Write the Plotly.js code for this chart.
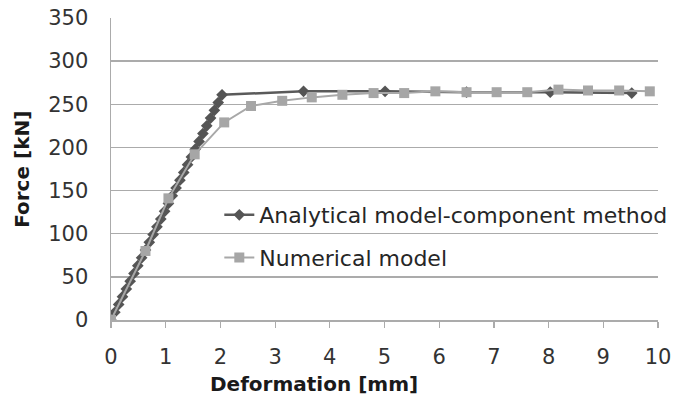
<!DOCTYPE html>
<html>
<head>
<meta charset="utf-8">
<script src="https://cdn.plot.ly/plotly-3.0.1.min.js"></script>
<style>
  html, body { margin: 0; padding: 0; background: #ffffff; }
  #chart { width: 674px; height: 405px; }
</style>
</head>
<body>
<div id="chart"></div>
<script>
// Force–deformation response: analytical (component method) vs. numerical model
const seriesNames = ["Analytical model-component method", "Numerical model"];

// Analytical model: linear elastic branch up to yield, then plateau
const analyticalDeformation = [0, 0.07, 0.14, 0.21, 0.28, 0.35, 0.42, 0.49, 0.56, 0.63,
  0.70, 0.77, 0.84, 0.91, 0.98, 1.05, 1.12, 1.19, 1.26, 1.33,
  1.40, 1.47, 1.54, 1.61, 1.68, 1.75, 1.82, 1.89, 1.96, 2.03,
  3.52, 5.01, 6.50, 8.03, 9.52];
const analyticalForce = [0, 9, 18, 27, 36, 45, 54, 63, 72, 81,
  90, 99, 108, 117, 126, 135, 144, 153, 162, 171,
  180, 189, 198, 207, 216, 225, 234, 243, 252, 261,
  265, 265, 264, 264, 263];

// Numerical model
const numericalDeformation = [0, 0.63, 1.05, 1.53, 2.07, 2.56, 3.13, 3.67, 4.23, 4.80,
  5.36, 5.93, 6.50, 7.05, 7.61, 8.18, 8.72, 9.29, 9.85];
const numericalForce = [0, 80, 141, 192, 229, 248, 254, 258, 261, 263,
  263, 265, 264, 264, 264, 267, 266, 266, 265];

const xTickValues = [0, 1, 2, 3, 4, 5, 6, 7, 8, 9, 10];
const yTickValues = [0, 50, 100, 150, 200, 250, 300, 350];

const axisTitles = { x: "Deformation [mm]", y: "Force [kN]" };

const FONT = "DejaVu Sans, Liberation Sans, sans-serif";
const GRID = "#ababab";

const traces = [
  {
    x: analyticalDeformation,
    y: analyticalForce,
    name: seriesNames[0],
    legendgroup: "a",
    type: "scatter",
    mode: "lines+markers",
    line: { color: "#5a5a5a", width: 2.5 },
    marker: { symbol: "diamond", size: 9, color: "#555555" }
  },
  {
    x: numericalDeformation,
    y: numericalForce,
    name: seriesNames[1],
    legendgroup: "n",
    type: "scatter",
    mode: "lines+markers",
    line: { color: "#a8a8a8", width: 2 },
    marker: { symbol: "square", size: 10, color: "#a6a6a6" }
  }
];

const layout = {
  width: 674,
  height: 405,
  // fixed plot box; the legend is allowed to run past the right edge of the grid
  margin: { l: 111, r: 16, t: 18, b: 85, autoexpand: false },
  paper_bgcolor: "#ffffff",
  plot_bgcolor: "#ffffff",
  font: { family: FONT, color: "#333333", size: 21 },
  showlegend: true,
  legend: {
    x: 0.198, y: 0.417, xanchor: "left", yanchor: "top",
    bgcolor: "rgba(0,0,0,0)",
    font: { family: FONT, size: 22, color: "#262626" },
    tracegroupgap: 11,
    traceorder: "grouped"
  },
  xaxis: {
    range: [0, 10],
    tickvals: xTickValues,
    ticktext: xTickValues.map(String),
    showgrid: false,
    zeroline: false,
    showline: true,
    linecolor: GRID,
    linewidth: 1.5,
    ticks: "outside",
    ticklen: 6,
    tickwidth: 1.2,
    tickcolor: GRID,
    ticklabelstandoff: 11,
    tickfont: { family: FONT, size: 21, color: "#333333" },
    automargin: false,
    fixedrange: true
  },
  yaxis: {
    range: [0, 350],
    tickvals: yTickValues,
    ticktext: yTickValues.map(String),
    showgrid: true,
    gridcolor: GRID,
    gridwidth: 1.5,
    zeroline: false,
    showline: true,
    linecolor: GRID,
    linewidth: 1.5,
    ticks: "",
    ticklabelstandoff: 17,
    tickfont: { family: FONT, size: 21, color: "#333333" },
    automargin: false,
    fixedrange: true
  },
  annotations: [
    {
      text: "<b>" + axisTitles.x + "</b>",
      xref: "paper", yref: "paper",
      x: 0.371, y: -0.212, xanchor: "center", yanchor: "middle",
      showarrow: false,
      font: { family: FONT, size: 20, color: "#1a1a1a" }
    },
    {
      text: "<b>" + axisTitles.y + "</b>",
      xref: "paper", yref: "paper",
      x: -0.163, y: 0.5, xanchor: "center", yanchor: "middle",
      textangle: -90,
      showarrow: false,
      font: { family: FONT, size: 20, color: "#1a1a1a" }
    }
  ]
};

Plotly.newPlot("chart", traces, layout, { displayModeBar: false, staticPlot: true });
</script>
</body>
</html>
